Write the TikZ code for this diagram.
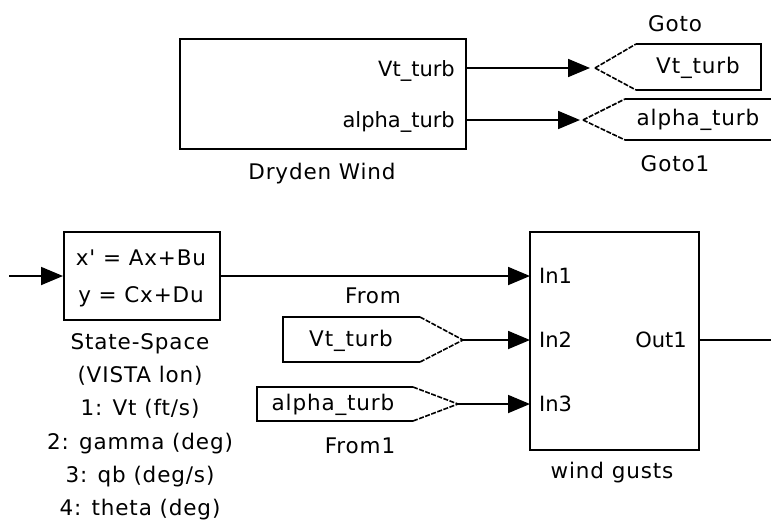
\documentclass[tikz,border=0pt]{standalone}
\usepackage{fontspec}
\setmainfont{DejaVu Sans}
\newfontfamily\lblfont{DejaVu Sans}[LetterSpace=4]
\usetikzlibrary{arrows.meta}
\begin{document}
\begin{tikzpicture}[x=1pt,y=-1pt,
  blk/.style={draw,line width=2pt,inner sep=0,rectangle},
  wire/.style={line width=1.8pt,-{Triangle[length=22pt,width=18pt]}},
  plainwire/.style={line width=1.8pt},
  tagedge/.style={line width=1.8pt},
  diag/.style={line width=1.6pt,dash pattern=on 5pt off 1.5pt},
  port/.style={font=\fontsize{21}{24}\selectfont,inner sep=0},
  lbl/.style={font=\lblfont\fontsize{21.5}{33.3}\selectfont,inner sep=0},
  ]
\useasboundingbox (0,0) rectangle (771,523);

% ---------- Dryden Wind ----------
\node[blk,minimum width=286pt,minimum height=110pt] (dw) at (323,94) {};
\node[port,anchor=base east] (dwvt) at (455,76) {Vt\_turb};
\node[port,anchor=base east] (dwal) at (455,127) {alpha\_turb};
\node[lbl,anchor=base] (dwname) at (322,179) {Dryden Wind};
\coordinate (dwo1) at (466,68);
\coordinate (dwo2) at (466,120);

% ---------- Goto ----------
\coordinate (gototip) at (595,68);
\draw[diag] (gototip) -- (636,44);
\draw[diag] (gototip) -- (636,90);
\draw[tagedge] (636,44) -- (761,44) -- (761,90) -- (636,90);
\node[lbl,anchor=base] (gototxt) at (698,73) {Vt\_turb};
\node[lbl,anchor=base] (gotoname) at (675,31) {Goto};

% ---------- Goto1 ----------
\coordinate (goto1tip) at (583,120);
\draw[diag] (goto1tip) -- (625,99);
\draw[diag] (goto1tip) -- (625,140);
\draw[tagedge] (780,99) -- (625,99);
\draw[tagedge] (625,140) -- (780,140);
\node[lbl,anchor=base] (goto1txt) at (698,125) {alpha\_turb};
\node[lbl,anchor=base] (goto1name) at (675,171) {Goto1};

\draw[wire,shorten >=5pt] (dwo1) -- (gototip);
\draw[wire,shorten >=3pt] (dwo2) -- (goto1tip);

% ---------- State-Space ----------
\node[blk,minimum width=156pt,minimum height=88pt] (ss) at (142,276) {};
\node[lbl,anchor=base] (ss1) at (141,265.5) {x' = Ax+Bu};
\node[lbl,anchor=base] (ss2) at (141,302.5) {y = Cx+Du};
\node[lbl,anchor=north,align=center] (ssname) at (140,333)
  {State-Space\\(VISTA lon)\\1: Vt (ft/s)\\2: gamma (deg)\\3: qb (deg/s)\\4: theta (deg)};
\coordinate (ssin) at (9,276);
\draw[wire] (ssin) -- (ss.west);

% ---------- wind gusts ----------
\node[blk,minimum width=169pt,minimum height=218pt] (wg) at (614.5,341) {};
\node[port,anchor=base west] (in1) at (539,283) {In1};
\node[port,anchor=base west] (in2) at (539,347) {In2};
\node[port,anchor=base west] (in3) at (539,411) {In3};
\node[port,anchor=base east] (out1) at (687,347) {Out1};
\node[lbl,anchor=base] (wgname) at (612,478) {wind gusts};
\coordinate (wgi1) at (530,276);
\coordinate (wgi2) at (530,340);
\coordinate (wgi3) at (530,404);
\coordinate (wgo) at (699,340);
\coordinate (outend) at (771,340);
\draw[plainwire] (wgo) -- (outend);

\coordinate (ssout) at (220,276);
\draw[wire] (ssout) -- (wgi1);

% ---------- From ----------
\coordinate (fromtip) at (463,340);
\draw[tagedge] (420,317) -- (283,317) -- (283,362) -- (420,362);
\draw[diag] (420,317) -- (fromtip);
\draw[diag] (420,362) -- (fromtip);
\node[lbl,anchor=base] (fromtxt) at (351,346) {Vt\_turb};
\node[lbl,anchor=base] (fromname) at (373,303) {From};
\draw[wire] (fromtip) -- (wgi2);

% ---------- From1 ----------
\coordinate (from1tip) at (458,404);
\draw[tagedge] (413,387) -- (257,387) -- (257,421) -- (413,421);
\draw[diag] (413,387) -- (from1tip);
\draw[diag] (413,421) -- (from1tip);
\node[lbl,anchor=base] (from1txt) at (333,410) {alpha\_turb};
\node[lbl,anchor=base] (from1name) at (360,453) {From1};
\draw[wire] (from1tip) -- (wgi3);
\end{tikzpicture}
\end{document}
